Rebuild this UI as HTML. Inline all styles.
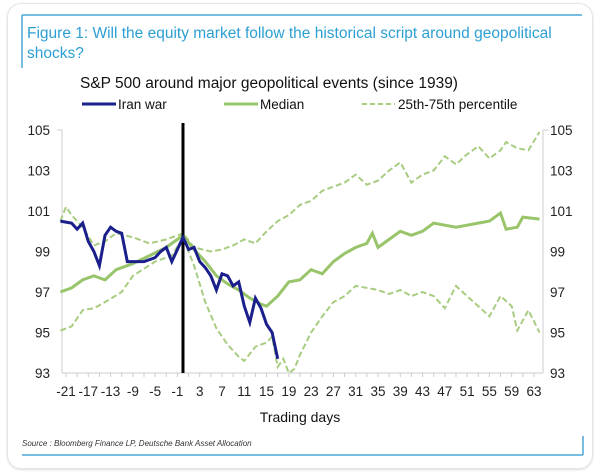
<!DOCTYPE html>
<html><head><meta charset="utf-8"><style>
body{margin:0;background:#fff;width:601px;height:475px;overflow:hidden;font-family:"Liberation Sans",sans-serif}
.card{position:absolute;left:7px;top:3px;width:584px;height:464px;border:1px solid #e4e4e4;border-radius:14px;box-shadow:0 1px 2px #ddd}
</style></head><body>
<div class="card"></div>
<svg width="601" height="475" style="position:absolute;left:0;top:0" font-family="Liberation Sans, sans-serif">
<line x1="22" y1="15" x2="582" y2="15" stroke="#4aa8d8" stroke-width="1.5"/>
<line x1="22" y1="15" x2="22" y2="68" stroke="#4aa8d8" stroke-width="1.5"/>
<line x1="22" y1="455" x2="583" y2="455" stroke="#4aa8d8" stroke-width="1.5"/>
<line x1="583" y1="436" x2="583" y2="455" stroke="#4aa8d8" stroke-width="1.5"/>
<text x="27" y="38" font-size="15.5" fill="#2c9fd4">Figure 1: Will the equity market follow the historical script around geopolitical</text>
<text x="27" y="58" font-size="15.5" fill="#2c9fd4">shocks?</text>
<text x="80" y="88" font-size="15.5" fill="#111">S&amp;P 500 around major geopolitical events (since 1939)</text>
<line x1="82" y1="104" x2="116" y2="104" stroke="#1a1f8c" stroke-width="3"/>
<text x="118" y="109" font-size="13.5" fill="#111">Iran war</text>
<line x1="224" y1="104" x2="258" y2="104" stroke="#98c46a" stroke-width="3"/>
<text x="260" y="109" font-size="13.5" fill="#111">Median</text>
<line x1="362" y1="104" x2="395" y2="104" stroke="#a8cc80" stroke-width="2" stroke-dasharray="5,3"/>
<text x="398" y="109" font-size="13.5" fill="#111">25th-75th percentile</text>
<g id="ax"></g>
<text x="300" y="422" font-size="14" fill="#111" text-anchor="middle">Trading days</text>
<text x="22" y="446" font-size="8" font-style="italic" fill="#333">Source : Bloomberg Finance LP, Deutsche Bank Asset Allocation</text>
</svg>
<script>
var g=document.getElementById('ax'),s='';
function X(d){return 66+(d+21)*5.571}
function Y(v){return 130+(105-v)*20.25}
s+='<line x1="62" y1="130" x2="62" y2="373" stroke="#ccc"/><line x1="543" y1="130" x2="543" y2="373" stroke="#ccc"/><line x1="62" y1="373" x2="543" y2="373" stroke="#ccc"/>';
for(var v=93;v<=105;v+=2){s+='<text x="50" y="'+(Y(v)+5)+'" font-size="13.5" text-anchor="end" fill="#222">'+v+'</text><text x="550" y="'+(Y(v)+5)+'" font-size="13.5" fill="#222">'+v+'</text>';}
s+='<line x1="57" y1="130" x2="62" y2="130" stroke="#ccc"/><line x1="543" y1="130" x2="548" y2="130" stroke="#ccc"/>';
for(var d=-21;d<=63;d+=2){s+='<line x1="'+X(d)+'" y1="373" x2="'+X(d)+'" y2="377" stroke="#ccc"/>';}
for(var d=-21;d<=63;d+=4){s+='<text x="'+X(d)+'" y="396" font-size="13.5" text-anchor="middle" fill="#222">'+d+'</text>';}
function interp(k){var o=[];for(var d=-22;d<=64;d++){for(var i=0;i<k.length-1;i++){if(d>=k[i][0]&&d<=k[i+1][0]){var t=(d-k[i][0])/(k[i+1][0]-k[i][0]);o.push([d,k[i][1]+t*(k[i+1][1]-k[i][1])]);break;}}}return o}
function path(p){return p.map(function(q,i){return(i?'L':'M')+X(q[0]).toFixed(1)+','+Y(q[1]).toFixed(1)}).join('')}
var up=[[-22,100.5],[-21,101.2],[-20,100.8],[-18,100.2],[-16,99.3],[-14,99.5],[-12,99.9],[-9,99.7],[-6,99.4],[-3,99.6],[0,99.9],[2,99.2],[5,99],[7,99.1],[9,99.3],[11,99.6],[13,99.4],[15,100],[17,100.5],[19,100.8],[21,101.3],[23,101.5],[25,102],[27,102.2],[29,102.4],[31,102.8],[33,102.3],[35,102.5],[37,103],[39,103.4],[41,102.4],[43,102.8],[45,103],[47,103.7],[49,103.3],[51,103.8],[53,104.2],[55,103.6],[57,104],[58,104.4],[60,104.1],[62,104],[64,104.9]];
var lo=[[-22,95.1],[-20,95.3],[-18,96.1],[-16,96.2],[-14,96.5],[-11,97],[-9,97.8],[-5,98.5],[-2,98.8],[0,99.7],[2,98.3],[4,96.5],[6,95.2],[8,94.4],[10,93.8],[11,93.6],[13,94.3],[15,94.5],[16,94.8],[17,93.3],[18,93.7],[19,93.0],[20,93.2],[21,93.9],[23,95],[25,95.8],[27,96.5],[29,96.8],[31,97.3],[33,97.2],[35,97.1],[37,96.9],[39,97.1],[41,96.8],[43,97],[45,96.8],[47,96.2],[49,97.3],[51,96.8],[53,96.3],[55,95.8],[57,96.8],[59,96.3],[60,95.1],[62,96.1],[64,95]];
var md=[[-22,97],[-20,97.2],[-18,97.6],[-16,97.8],[-14,97.6],[-12,98.1],[-9,98.4],[-6,98.8],[-3,99.2],[0,99.8],[2,99.1],[4,98.5],[6,97.8],[8,97.4],[10,97.1],[12,96.7],[14,96.4],[15,96.3],[17,96.8],[19,97.5],[21,97.6],[23,98.1],[25,97.9],[27,98.5],[29,98.9],[31,99.2],[33,99.4],[34,99.9],[35,99.2],[37,99.6],[39,100],[41,99.8],[43,100],[45,100.4],[47,100.3],[49,100.2],[51,100.3],[53,100.4],[55,100.5],[57,100.9],[58,100.1],[60,100.2],[61,100.7],[64,100.6]];
var ir=[[-22,100.5],[-20,100.4],[-19,100.1],[-18,100.4],[-17,99.5],[-16,99],[-15,98.3],[-14,99.8],[-13,100.2],[-12,100],[-11,99.9],[-10,98.5],[-7,98.5],[-5,98.7],[-4,99],[-3,99.2],[-2,98.5],[-1,99.1],[0,99.7],[1,99.1],[2,99.2],[3,98.5],[4,98.2],[5,97.8],[6,97.1],[7,97.9],[8,97.8],[9,97.3],[10,97.5],[11,96.3],[12,95.5],[13,96.7],[14,96.2],[15,95.4],[16,95],[17,93.7]];
s+='<path d="'+path(up)+'" fill="none" stroke="#a8cc80" stroke-width="2" stroke-dasharray="6,3"/>';
s+='<path d="'+path(lo)+'" fill="none" stroke="#a8cc80" stroke-width="2" stroke-dasharray="6,3"/>';
s+='<path d="'+path(md)+'" fill="none" stroke="#98c46a" stroke-width="3"/>';
s+='<line x1="'+X(0)+'" y1="123" x2="'+X(0)+'" y2="373" stroke="#000" stroke-width="3"/>';
s+='<path d="'+path(ir)+'" fill="none" stroke="#1a1f8c" stroke-width="3"/>';
g.innerHTML=s;
</script>
</body></html>
